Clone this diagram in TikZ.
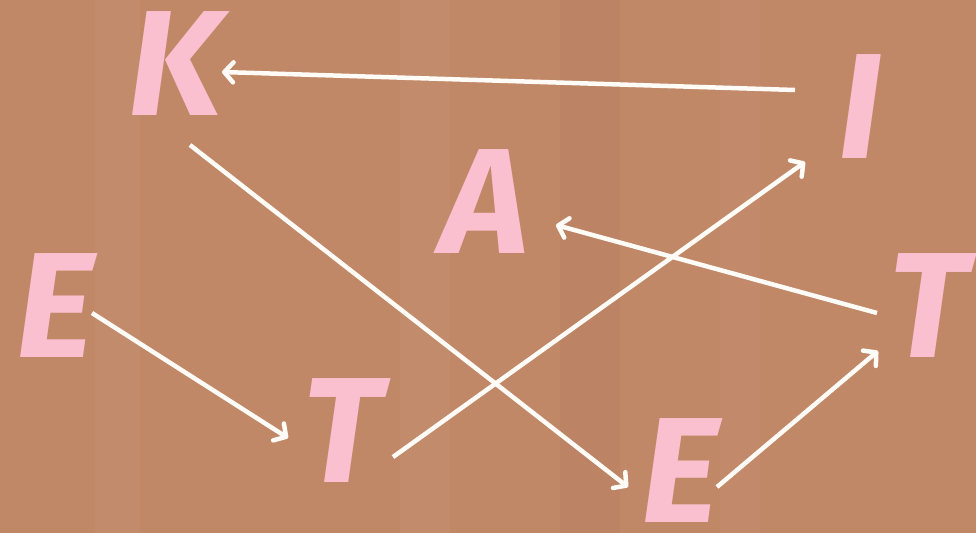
\documentclass[tikz,border=0pt]{standalone}
\usepackage{fontspec}
\setmainfont{Fira Sans}
\usetikzlibrary{arrows.meta}
\definecolor{bgbrown}{RGB}{193,136,104}
\definecolor{letterpink}{RGB}{250,192,207}
\definecolor{arrowwhite}{RGB}{255,251,246}
\tikzset{
  letter/.style={inner sep=0pt, text=letterpink, font=\fontsize{150}{150}\selectfont\bfseries\itshape},
  arr/.style={draw=arrowwhite, line width=4.5pt, -{Straight Barb[length=9pt,width=20pt,line width=4.5pt,round]}}
}
\begin{document}
\begin{tikzpicture}[x=1pt,y=-1pt]
\useasboundingbox (0,0) rectangle (976,533);
\fill[bgbrown] (0,0) rectangle (976,533);
\fill[white,opacity=0.03] (95,0) rectangle (140,533);
\fill[white,opacity=0.03] (400,0) rectangle (450,533);
\fill[black,opacity=0.025] (560,0) rectangle (620,533);
\fill[white,opacity=0.025] (720,0) rectangle (760,533);

\node[letter] (K) at (175,64) {K};
\node[letter] (I) at (860,107) {I};
\node[letter] (A) at (485,202) {A};
\node[letter] (E1) at (55,306) {E};
\node[letter] (T1) at (342,431) {T};
\node[letter] (T2) at (928,306) {T};
\node[letter] (E2) at (680,471) {E};

\draw[arr] ([shift={(-65,-17)}]I.center) -- ([shift={(47,8)}]K.center);
\draw[arr] ([shift={(15,81)}]K.center) -- ([shift={(-52,16)}]E2.center);
\draw[arr] ([shift={(37,7)}]E1.center) -- ([shift={(-54,7)}]T1.center);
\draw[arr] ([shift={(51,26)}]T1.center) -- ([shift={(-55,55)}]I.center);
\draw[arr] ([shift={(-51,7)}]T2.center) -- ([shift={(71,23)}]A.center);
\draw[arr] ([shift={(37,16)}]E2.center) -- ([shift={(-50,45)}]T2.center);
\end{tikzpicture}
\end{document}
